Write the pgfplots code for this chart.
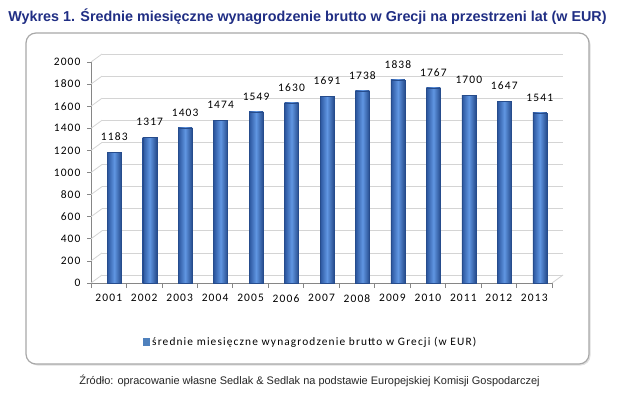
\documentclass[border=0pt]{standalone}
\usepackage{fontspec}
\setmainfont{Liberation Sans}
\newfontfamily\calfont[LetterSpace=10]{Carlito}
\usepackage{pgfplots}
\pgfplotsset{compat=1.18}
\definecolor{titleblue}{RGB}{32,46,132}
\definecolor{bardark}{RGB}{42,84,156}
\definecolor{barmid}{RGB}{96,150,226}
\definecolor{gridc}{RGB}{212,212,212}
\definecolor{axisc}{RGB}{134,134,134}
\definecolor{boxc}{RGB}{168,168,168}
\definecolor{legc}{RGB}{79,129,189}
\pgfplotsset{cyl/.style={draw=bardark!90!black, line width=0.3, left color=bardark, right color=bardark!90!black, middle color=barmid}}
\begin{document}
\begin{tikzpicture}[x=1bp,y=1bp]
\useasboundingbox (0,0) rectangle (620,399);
\fill[white] (0,0) rectangle (620,399);
\fill[black!12, rounded corners=10] (27.5,33.5) rectangle (590.5,364.5);
\draw[boxc, line width=1.2, rounded corners=10, fill=white] (26,35) rectangle (589,366);
\node[titleblue, font=\bfseries\fontsize{14.4}{16}\selectfont] at (307.5,382) {Wykres 1. Średnie miesięczne wynagrodzenie brutto w Grecji na przestrzeni lat (w EUR)};
\begin{axis}[
  scale only axis, width=461bp, height=221bp,
  at={(91bp,116bp)}, anchor=south west,
  ymin=0, ymax=2000, ytick={0,200,...,2000},
  xmin=-0.5, xmax=12.5, xtick={0,...,12},
  xticklabels={2001,2002,2003,2004,2005,2006,2007,2008,2009,2010,2011,2012,2013},
  minor xtick={-0.5,0.5,...,12.5},
  /pgf/number format/assume math mode=true,
  /pgf/number format/1000 sep={},
  ymajorgrids, grid style={gridc, line width=0.8, xshift=11bp, yshift=8bp},
  axis x line*=bottom, axis y line*=left,
  axis line style={axisc, line width=0.8},
  tick align=outside, major tick length=4bp, minor tick length=5bp,
  tick style={axisc, line width=0.8},
  every major x tick/.append style={draw=none},
  ticklabel style={font=\calfont\fontsize{11.5}{13}\selectfont},
  xticklabel style={yshift=-4bp},
  yticklabel style={xshift=-3bp},
  ybar, bar width=14bp, bar shift=5.5bp,
  nodes near coords,
  nodes near coords style={font=\calfont\fontsize{11.5}{13}\selectfont, yshift=8bp},
  clip=false,
]
\pgfplotsinvokeforeach{0,200,...,2000}{\draw[gridc, line width=0.8] (axis cs:-0.5,#1) -- ++(11bp,8bp);}
\draw[gridc, line width=0.8] (axis cs:12.5,0) -- ++(11bp,8bp);
\addplot[cyl] coordinates {(0,1183)};
\addplot[cyl] coordinates {(1,1317)};
\addplot[cyl] coordinates {(2,1403)};
\addplot[cyl] coordinates {(3,1474)};
\addplot[cyl] coordinates {(4,1549)};
\addplot[cyl] coordinates {(5,1630)};
\addplot[cyl] coordinates {(6,1691)};
\addplot[cyl] coordinates {(7,1738)};
\addplot[cyl] coordinates {(8,1838)};
\addplot[cyl] coordinates {(9,1767)};
\addplot[cyl] coordinates {(10,1700)};
\addplot[cyl] coordinates {(11,1647)};
\addplot[cyl] coordinates {(12,1541)};
\end{axis}
\fill[legc] (143,53) rectangle (150,61);
\node[anchor=west, font=\calfont\fontsize{11.4}{13}\selectfont, inner sep=0pt] at (152,57) {średnie miesięczne wynagrodzenie brutto w Grecji (w EUR)};
\node[font=\fontsize{11}{13}\selectfont, text=black!85] at (309.5,18) {Źródło: opracowanie własne Sedlak \& Sedlak na podstawie Europejskiej Komisji Gospodarczej};
\end{tikzpicture}
\end{document}
